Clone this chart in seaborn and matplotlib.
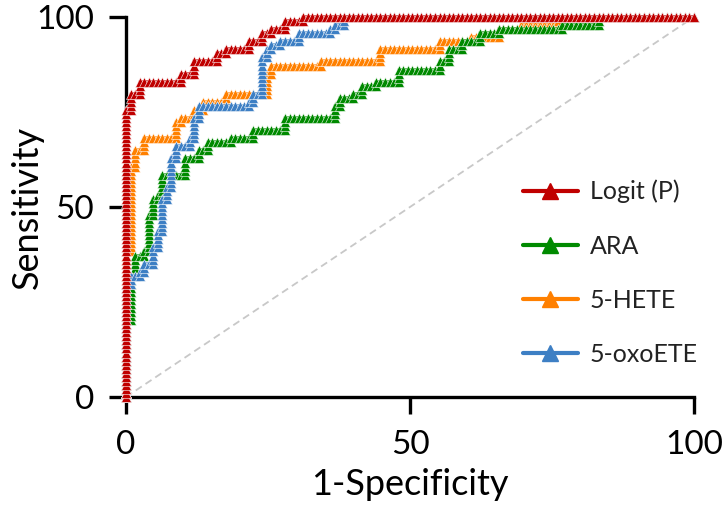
"""
ROC curves: Logit (P), ARA, 5-HETE, 5-oxoETE
"""
#------------------------------------------------------------------------------
# Libraries
#------------------------------------------------------------------------------

import numpy as np
import seaborn as sns
import matplotlib.pyplot as plt
from matplotlib.lines import Line2D

#------------------------------------------------------------------------------
# Data (step corners, in %)
#------------------------------------------------------------------------------

n_neg = 125   # negatives -> one x step
n_pos = 94    # positives -> one y step

# at fpr = x[i] the curve rises to tpr = y[i]
logit_x = [0, 0.7, 2.5, 10, 11.7, 16, 18, 21.5, 24, 26, 28.3, 31.5, 100]
logit_y = [76, 80, 83.5, 85.5, 88.5, 90.5, 92, 93.5, 95.5, 97, 98.7, 100, 100]

ara_x = [0, 1, 2, 3.5, 4, 5, 5.6, 6.2, 6.8, 10.7, 12.5, 14.8, 18.3, 22.4,
         28.3, 36.6, 37.5, 39.6, 41.3, 43.8, 48.2, 55.3, 56.5, 59.3, 62.3,
         65.3, 77, 83, 100]
ara_y = [20, 31.6, 36.8, 38.7, 47.4, 52, 53.7, 55.8, 58.4, 63, 65.2, 66.8,
         68.4, 70.3, 73.4, 76.3, 78.4, 80.3, 81.8, 83.4, 86.5, 88.7, 91.5,
         93.2, 95.3, 96.6, 98.4, 100, 100]

hete_x = [0, 1, 1.6, 3, 8.6, 10, 12, 13.5, 18, 24.5, 25.5, 34.5, 45, 55,
          60.5, 66, 69.7, 76, 100]
hete_y = [38, 60.5, 65, 68, 72, 73, 75.5, 77.5, 80, 85.3, 87.6, 88.5, 91.8,
          93.4, 95, 96.6, 98.4, 100, 100]

oxo_x = [0, 0.7, 2.4, 3, 4.6, 5.4, 6, 6.6, 7.2, 7.6, 8.3, 9.0, 11.3, 12, 13,
         21.3, 22.2, 23.6, 24.1, 24.8, 26, 27, 30, 36.2, 37.2, 38.5, 100]
oxo_y = [30, 31.5, 33.4, 35.5, 39.5, 43.4, 48.4, 51.8, 55.3, 59.7, 63.2,
         65.5, 67.6, 73.7, 76.8, 78, 80, 82.6, 89.5, 91.3, 93, 94, 95.3, 97,
         98.4, 100, 100]

labels = ['Logit (P)', 'ARA', '5-HETE', '5-oxoETE']
colors = ['#c00000', '#008a00', '#ff8000', '#3d7fc4']

#------------------------------------------------------------------------------
# Helper
#------------------------------------------------------------------------------

def roc_points(xs, ys):
    # walk the ROC one sample at a time, right then up at each corner
    fp, tp = 0, 0
    px, py = [0], [0]
    for x, y in zip(xs, ys):
        fx = int(round(x * n_neg / 100))
        ty = int(round(y * n_pos / 100))
        while fp < fx:
            fp += 1
            px.append(fp); py.append(tp)
        while tp < ty:
            tp += 1
            px.append(fp); py.append(tp)
    return np.array(px) * 100 / n_neg, np.array(py) * 100 / n_pos

#------------------------------------------------------------------------------
# Plot
#------------------------------------------------------------------------------

sns.set_theme(style='ticks')
plt.rcParams['font.family'] = ['Lato', 'DejaVu Sans']

fig = plt.figure(figsize=(7.28, 5.11), dpi=100)
ax = fig.add_axes([126 / 728, 1 - 397 / 511, 568 / 728, 380 / 511])

ax.plot([0, 100], [0, 100], color='#c8c8c8', lw=1.3,
        linestyle=(0, (4, 2.5)), zorder=1)

curves = {'Logit (P)': (logit_x, logit_y), 'ARA': (ara_x, ara_y),
          '5-HETE': (hete_x, hete_y), '5-oxoETE': (oxo_x, oxo_y)}
draw_order = ['5-HETE', 'ARA', '5-oxoETE', 'Logit (P)']

for z, name in enumerate(draw_order):
    cx, cy = roc_points(*curves[name])
    col = colors[labels.index(name)]
    sns.lineplot(x=cx, y=cy, ax=ax, sort=False, estimator=None, color=col,
                 lw=2.6, marker='^', markersize=6.5, markeredgecolor='white',
                 markeredgewidth=0.4, clip_on=False, zorder=3 + z)

ax.set_xlim(0, 100)
ax.set_ylim(0, 100)
ax.set_xticks([0, 50, 100])
ax.set_yticks([0, 50, 100])
for side in ['top', 'right']:
    ax.spines[side].set_visible(False)
for side in ['left', 'bottom']:
    ax.spines[side].set_linewidth(2.4)
    ax.spines[side].set_color('black')
ax.tick_params(axis='both', length=12, width=2.4, color='black',
               labelsize=24, labelcolor='black')
ax.tick_params(axis='x', pad=12)
ax.tick_params(axis='y', pad=11)
ax.set_xlabel('1-Specificity', fontsize=26, color='black')
ax.set_ylabel('Sensitivity', fontsize=26, color='black')
ax.xaxis.set_label_coords(0.5, (397 - 468) / 380)
ax.yaxis.set_label_coords((44 - 126) / 568, 0.5)

handles = [Line2D([0], [0], color=c, lw=3, marker='^', markersize=11)
           for c in colors]
ax.legend(handles, labels, loc='center left', frameon=False, fontsize=18,
          bbox_to_anchor=(500 / 728, 1 - 273 / 511),
          bbox_transform=fig.transFigure, handlelength=2.2,
          handletextpad=0.5, labelspacing=1.25, labelcolor='#222222')

plt.savefig('out.png', dpi=100)
